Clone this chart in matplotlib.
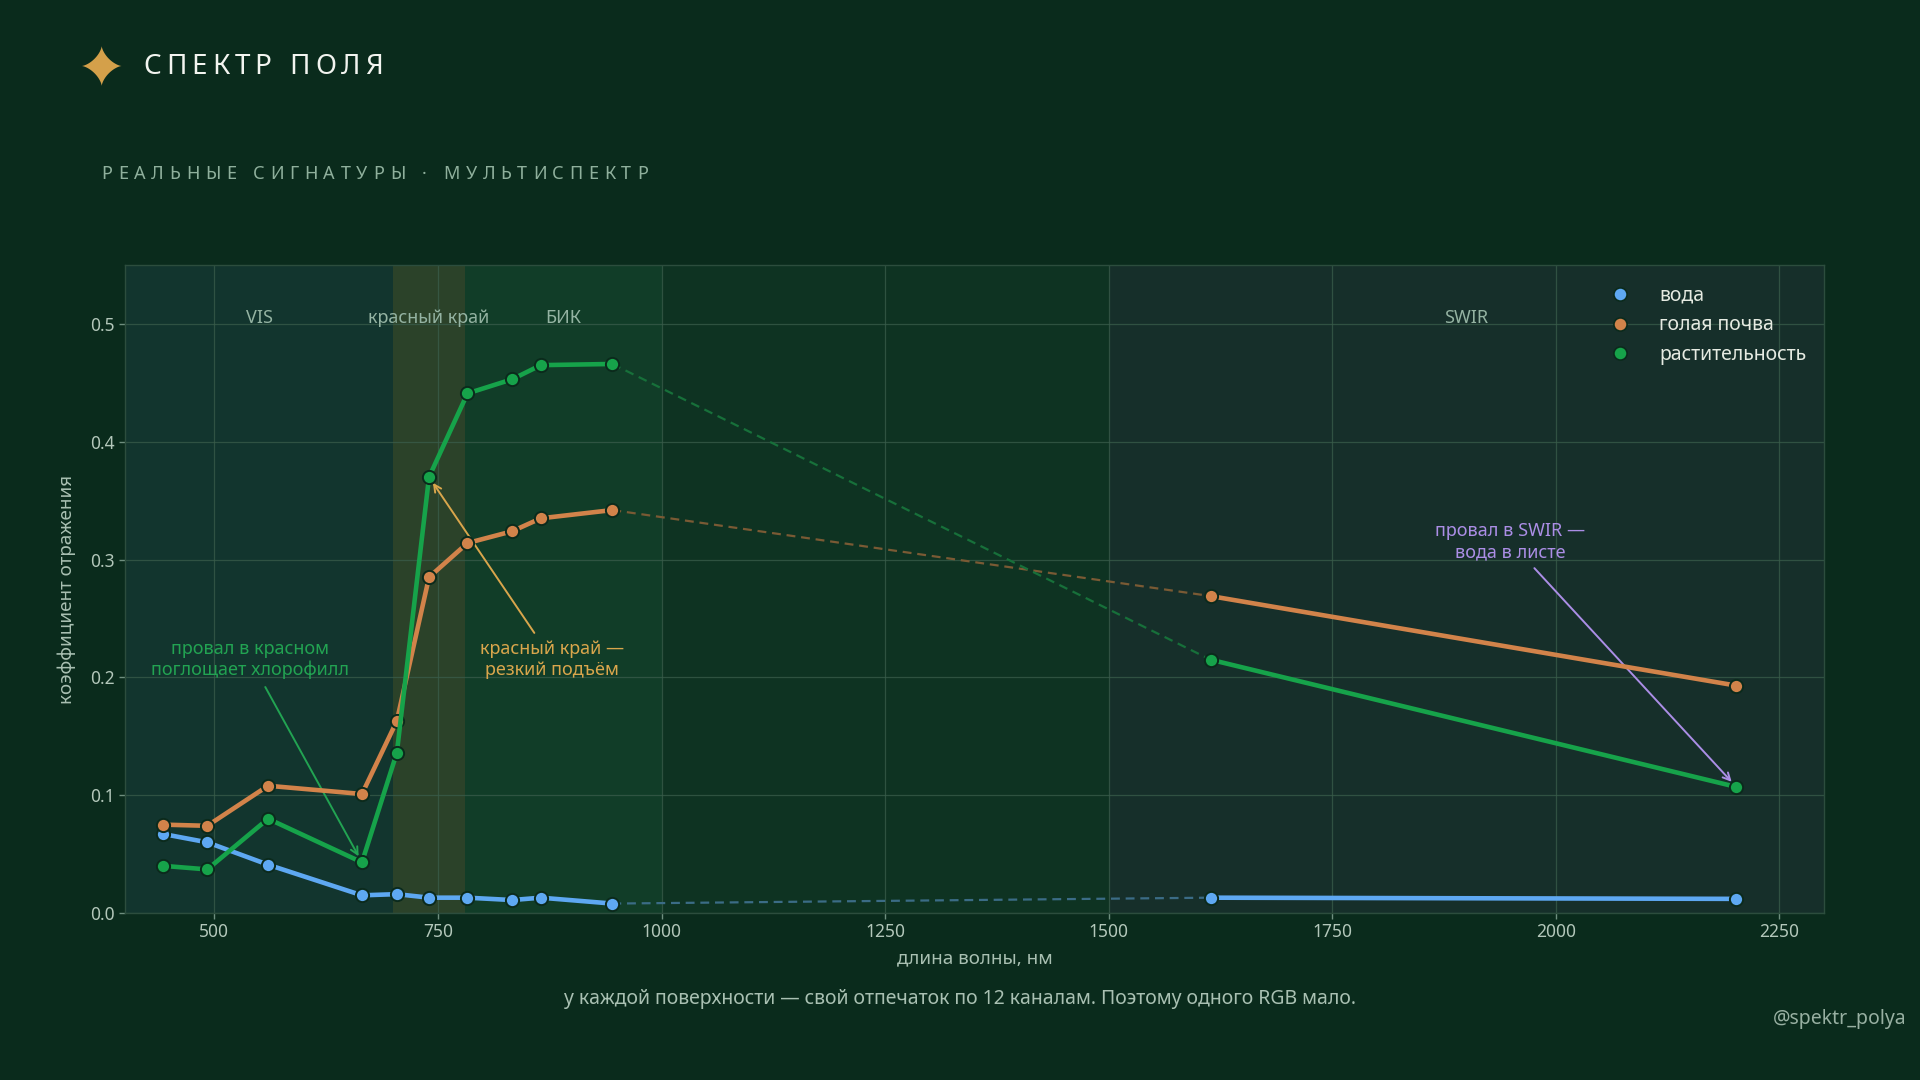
import numpy as np
import matplotlib
matplotlib.use("Agg")
import matplotlib.pyplot as plt
from matplotlib.lines import Line2D
from matplotlib.patches import Polygon

plt.rcParams["font.family"] = ["Noto Sans", "DejaVu Sans"]

# Sentinel-2 band centres, nm
wavelengths = [443, 492, 560, 665, 704, 740, 783, 833, 865, 945, 1614, 2202]
water = [0.067, 0.060, 0.041, 0.015, 0.016, 0.013, 0.013, 0.011, 0.013, 0.008, 0.013, 0.012]
soil = [0.075, 0.074, 0.108, 0.101, 0.163, 0.285, 0.314, 0.324, 0.335, 0.342, 0.269, 0.193]
veg = [0.040, 0.037, 0.080, 0.043, 0.136, 0.370, 0.441, 0.453, 0.465, 0.466, 0.215, 0.107]

series_names = ["вода", "голая почва", "растительность"]
series_colors = ["#5ea8f2", "#d2834a", "#16a34a"]
dash_colors = ["#3b6c86", "#7a5a34", "#17703a"]

regions = [("VIS", 400, 700, "#12352e"), ("красный край", 700, 780, "#2b4229"),
           ("БИК", 780, 1000, "#113d28"), ("SWIR", 1500, 2300, "#162f2a")]

BG = "#0a2b1c"
W, H = 1920, 1080

fig = plt.figure(figsize=(19.2, 10.8), dpi=100, facecolor=BG)
ax = fig.add_axes([125 / W, 1 - 913 / H, (1824 - 125) / W, (913 - 265) / H])
ax.set_facecolor("#0e3322")

for name, x0, x1, col in regions:
    ax.axvspan(x0, x1, color=col, zorder=0, lw=0)
    ax.text((x0 + x1) / 2, 0.505, name, ha="center", va="center",
            color="#94b3a2", fontsize=13, zorder=2)

ax.grid(True, color="#3a5d4b", lw=0.9, alpha=0.75, zorder=1)
ax.set_axisbelow(True)

all_series = [water, soil, veg]
for vals, col, dcol in zip(all_series, series_colors, dash_colors):
    v = np.array(vals)
    wl = np.array(wavelengths)
    # gap between band 9 (945) and band 11 (1614) drawn dashed
    ax.plot(wl[9:11], v[9:11], color=dcol, lw=1.6, ls=(0, (4, 2.6)), zorder=3)
    ax.plot(wl[:10], v[:10], color=col, lw=3.3, zorder=4,
            marker="o", ms=9.5, mec="#0b2a1c", mew=1.4)
    ax.plot(wl[10:], v[10:], color=col, lw=3.3, zorder=4,
            marker="o", ms=9.5, mec="#0b2a1c", mew=1.4)

ax.set_xlim(400, 2300)
ax.set_ylim(0, 0.55)
ax.set_xticks([500, 750, 1000, 1250, 1500, 1750, 2000, 2250])
ax.set_yticks([0.0, 0.1, 0.2, 0.3, 0.4, 0.5])
ax.tick_params(colors="#6f8f7f", labelcolor="#b3c7ba", labelsize=12.5, length=4, width=1)
for sp in ax.spines.values():
    sp.set_color("#2c4d3d")
    sp.set_linewidth(1)

ax.set_xlabel("длина волны, нм", color="#a9c0b2", fontsize=13.5, labelpad=6)
ax.set_ylabel("коэффициент отражения", color="#a9c0b2", fontsize=13.5, labelpad=10)

# annotations
ax.annotate("провал в красном\nпоглощает хлорофилл", xy=(wavelengths[3], veg[3]),
            xytext=(540, 0.215), ha="center", va="center", color="#22a352", fontsize=13,
            linespacing=1.2,
            arrowprops=dict(arrowstyle="->", color="#22a352", lw=1.4, shrinkA=4, shrinkB=5))
ax.annotate("красный край —\nрезкий подъём", xy=(wavelengths[5], veg[5]),
            xytext=(878, 0.215), ha="center", va="center", color="#d9a64c", fontsize=13,
            linespacing=1.2,
            arrowprops=dict(arrowstyle="->", color="#d9a64c", lw=1.4, shrinkA=4, shrinkB=5))
ax.annotate("провал в SWIR —\nвода в листе", xy=(wavelengths[11], veg[11]),
            xytext=(1949, 0.315), ha="center", va="center", color="#ab8ee6", fontsize=13,
            linespacing=1.2,
            arrowprops=dict(arrowstyle="->", color="#ab8ee6", lw=1.4, shrinkA=4, shrinkB=5))

handles = [Line2D([], [], ls="none", marker="o", ms=9.5, color=c, mec="#0b2a1c", mew=1.2)
           for c in series_colors]
leg = ax.legend(handles, series_names, loc="upper right", bbox_to_anchor=(1.0, 0.995),
                frameon=False, fontsize=14, handletextpad=1.0, labelspacing=0.5)
for t in leg.get_texts():
    t.set_color("#e6ebe2")

# overlay in pixel coordinates for header and footer
ov = fig.add_axes([0, 0, 1, 1], zorder=-1)
ov.set_xlim(0, W)
ov.set_ylim(H, 0)
ov.axis("off")

t = np.linspace(0, 2 * np.pi, 400)
p = 0.68
sx = 101.7 + 20 * np.sign(np.cos(t)) * np.abs(np.cos(t)) ** (2 / p)
sy = 66 + 20 * np.sign(np.sin(t)) * np.abs(np.sin(t)) ** (2 / p)
ov.add_patch(Polygon(np.column_stack([sx, sy]), closed=True, color="#d4a04a", lw=0))

renderer = fig.canvas.get_renderer()


def spaced_text(x0, x1, y, s, **kw):
    # place characters one by one so the string spans x0..x1
    arts = []
    widths = []
    for ch in s:
        a = ov.text(0, y, ch, va="baseline", ha="left", **kw)
        w = a.get_window_extent(renderer).width
        if ch == " ":
            w = a.get_fontsize() * 100 / 72 * 0.3
        arts.append(a)
        widths.append(w)
    track = (x1 - x0 - sum(widths)) / (len(s) - 1)
    x = x0
    for a, w in zip(arts, widths):
        a.set_x(x)
        x += w + track


spaced_text(143.7, 383, 74, "СПЕКТР ПОЛЯ", color="#f2f4ef", fontsize=20)
spaced_text(101.6, 647.7, 179, "РЕАЛЬНЫЕ СИГНАТУРЫ · МУЛЬТИСПЕКТР", color="#8fb09c", fontsize=13)

ov.text(960, 999, "у каждой поверхности — свой отпечаток по 12 каналам. Поэтому одного RGB мало.",
        ha="center", va="center", color="#a9c0b2", fontsize=14)
ov.text(1907, 1019, "@spektr_polya", ha="right", va="center", color="#98b0a2", fontsize=14)

fig.savefig("out.png", dpi=100, facecolor=BG)
